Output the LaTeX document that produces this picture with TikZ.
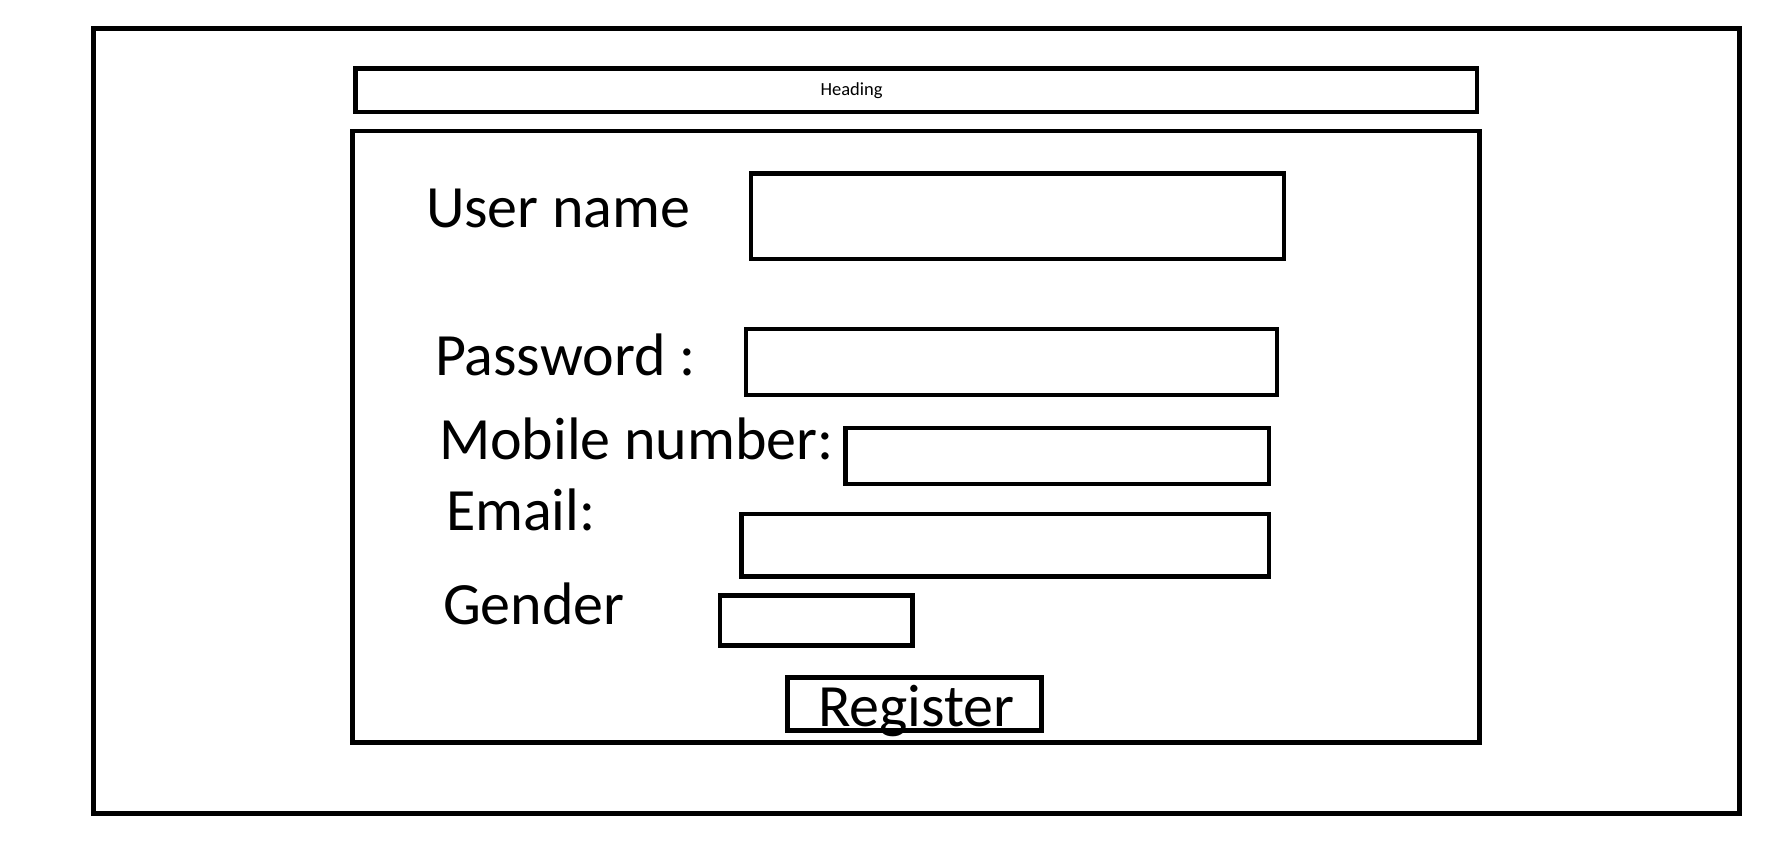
\documentclass[tikz,border=0pt]{standalone}
\usepackage{fontspec}
\setmainfont{Carlito}
\begin{document}
\begin{tikzpicture}[x=1pt,y=-1pt,
  fieldbox/.style={draw=black,line width=4.8pt,inner sep=0pt,outer sep=0pt},
  lbl/.style={anchor=base west,inner sep=0pt,outer sep=0pt,font=\fontsize{60}{64}\selectfont},
  headlbl/.style={anchor=base west,inner sep=0pt,outer sep=0pt,font=\fontsize{18.5}{20}\selectfont}]
\useasboundingbox (0,0) rectangle (1766,864);
% outer frame and main panels
\node[fieldbox,anchor=north west,minimum width=1646pt,minimum height=785pt] (outer) at (93.5,28.3) {};
\node[fieldbox,anchor=north west,minimum width=1121.5pt,minimum height=43.7pt] (headbox) at (355.5,68.3) {};
\node[fieldbox,anchor=north west,minimum width=1127pt,minimum height=611.5pt] (form) at (352.5,131) {};
\node[headlbl] (heading) at (820.5,96) {Heading};
% input fields
\node[fieldbox,anchor=north west,minimum width=533pt,minimum height=85.3pt] (userbox) at (751,173.7) {};
\node[fieldbox,anchor=north west,minimum width=531pt,minimum height=66pt] (passbox) at (746,329) {};
\node[fieldbox,anchor=north west,minimum width=423.2pt,minimum height=56pt] (mobilebox) at (845.8,428) {};
\node[fieldbox,anchor=north west,minimum width=527.3pt,minimum height=62.5pt] (emailbox) at (741.7,514) {};
\node[fieldbox,anchor=north west,minimum width=192.3pt,minimum height=49.4pt] (genderbox) at (720,595.8) {};
\node[fieldbox,anchor=north west,minimum width=254.3pt,minimum height=53.3pt] (regbox) at (787.5,677.5) {};
% labels
\node[lbl] (username) at (426,227) {User name};
\node[lbl] (password) at (435,375) {Password :};
\node[lbl] (mobile) at (439,459.3) {Mobile number:};
\node[lbl] (email) at (446,530.7) {Email:};
\node[lbl] (gender) at (443,624) {Gender};
\node[lbl] (register) at (818,726.7) {Register};
\end{tikzpicture}
\end{document}
